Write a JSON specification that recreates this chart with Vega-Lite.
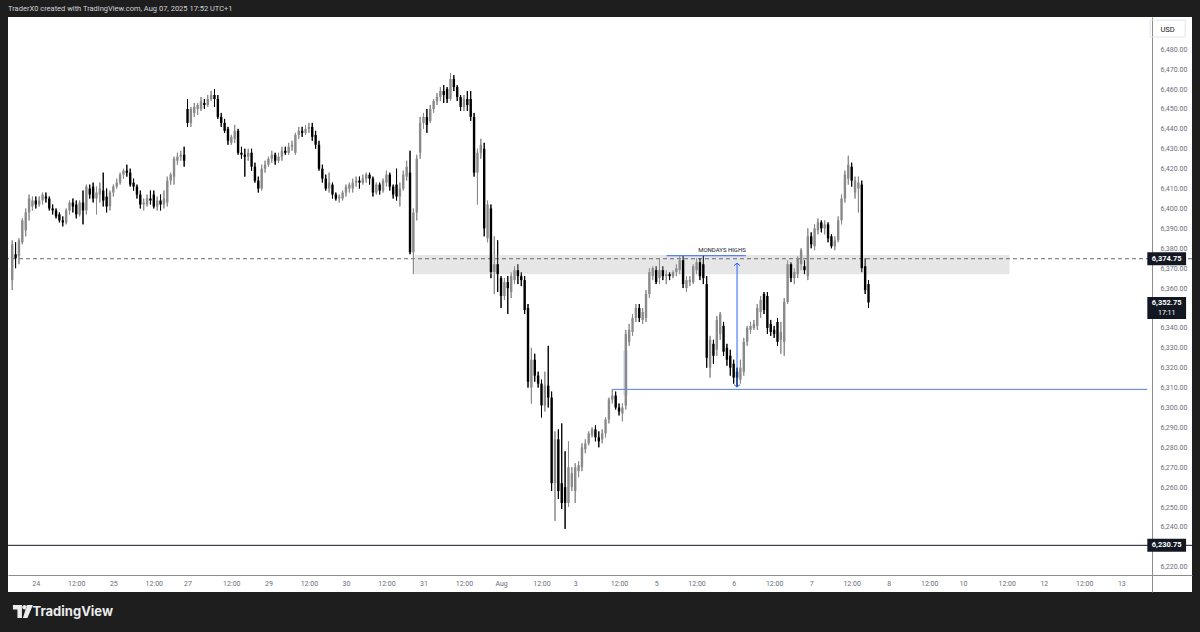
{
  "$schema": "https://vega.github.io/schema/vega-lite/v6.json",
  "width": 1184,
  "height": 575,
  "autosize": {"type": "none"},
  "padding": {"left": 8, "top": 17, "right": 8, "bottom": 40},
  "background": "#1e1e1e",
  "config": {
    "view": {"fill": "#ffffff", "stroke": null},
    "axis": {"grid": false, "ticks": false, "labelOverlap": false, "labelSeparation": 0, "labelBound": false},
    "font": "Roboto"
  },
  "title": {
    "text": "TraderX0 created with TradingView.com, Aug 07, 2025 17:52 UTC+1",
    "anchor": "start", "frame": "group", "orient": "top", "offset": 1,
    "baseline": "middle", "fontSize": 7.5, "fontWeight": "normal", "color": "#d1d4dc", "font": "Roboto"
  },
  "datasets": {
    "candles": [
      {"i":-7,"o":6364,"h":6384,"l":6359,"c":6382},{"i":-6,"o":6377,"h":6383,"l":6370,"c":6375},{"i":-5,"o":6376,"h":6385,"l":6372,"c":6384},{"i":-4,"o":6383,"h":6395,"l":6382,"c":6394},{"i":-3,"o":6389,"h":6400,"l":6386,"c":6398},{"i":-2,"o":6398,"h":6407,"l":6394,"c":6405},{"i":-1,"o":6401,"h":6406,"l":6399,"c":6404},
      {"i":0,"o":6404,"h":6406,"l":6400,"c":6402},{"i":1,"o":6402,"h":6406,"l":6401,"c":6404},{"i":2,"o":6404,"h":6408,"l":6402,"c":6407},{"i":3,"o":6406,"h":6408,"l":6403,"c":6405},{"i":4,"o":6405,"h":6406,"l":6399,"c":6400},{"i":5,"o":6400,"h":6402,"l":6397,"c":6399},{"i":6,"o":6399,"h":6400,"l":6395,"c":6396},{"i":7,"o":6397,"h":6398,"l":6393,"c":6394},{"i":8,"o":6394,"h":6396,"l":6391,"c":6393},{"i":9,"o":6393,"h":6400,"l":6392,"c":6399},
      {"i":10,"o":6399,"h":6404,"l":6397,"c":6403},{"i":11,"o":6403,"h":6405,"l":6398,"c":6401},{"i":12,"o":6402,"h":6404,"l":6395,"c":6397},{"i":13,"o":6397,"h":6404,"l":6396,"c":6403},{"i":14,"o":6403,"h":6409,"l":6392,"c":6399},{"i":15,"o":6399,"h":6412,"l":6397,"c":6411},{"i":16,"o":6410,"h":6412,"l":6405,"c":6407},{"i":17,"o":6411,"h":6413,"l":6403,"c":6405},{"i":18,"o":6405,"h":6411,"l":6397,"c":6408},{"i":19,"o":6407,"h":6413,"l":6403,"c":6410},
      {"i":20,"o":6409,"h":6418,"l":6401,"c":6404},{"i":21,"o":6406,"h":6410,"l":6398,"c":6401},{"i":22,"o":6401,"h":6409,"l":6399,"c":6408},{"i":23,"o":6408,"h":6412,"l":6406,"c":6411},{"i":24,"o":6411,"h":6415,"l":6410,"c":6413},{"i":25,"o":6413,"h":6418,"l":6412,"c":6417},{"i":26,"o":6417,"h":6420,"l":6415,"c":6419},{"i":27,"o":6419,"h":6422,"l":6416,"c":6418},{"i":28,"o":6418,"h":6420,"l":6411,"c":6412},{"i":29,"o":6413,"h":6415,"l":6409,"c":6411},
      {"i":30,"o":6411,"h":6412,"l":6405,"c":6407},{"i":31,"o":6407,"h":6409,"l":6400,"c":6402},{"i":32,"o":6402,"h":6405,"l":6399,"c":6403},{"i":33,"o":6402,"h":6407,"l":6401,"c":6405},{"i":34,"o":6405,"h":6409,"l":6402,"c":6404},{"i":35,"o":6407,"h":6409,"l":6400,"c":6401},{"i":36,"o":6401,"h":6406,"l":6399,"c":6404},{"i":37,"o":6404,"h":6407,"l":6399,"c":6402},{"i":38,"o":6402,"h":6409,"l":6400,"c":6405},{"i":39,"o":6403,"h":6416,"l":6401,"c":6414},
      {"i":40,"o":6414,"h":6418,"l":6412,"c":6417},{"i":41,"o":6416,"h":6426,"l":6412,"c":6425},{"i":42,"o":6424,"h":6428,"l":6422,"c":6426},{"i":43,"o":6426,"h":6429,"l":6424,"c":6427},{"i":44,"o":6427,"h":6431,"l":6421,"c":6424},
      {"i":45,"o":6450,"h":6455,"l":6441,"c":6443},{"i":46,"o":6443,"h":6451,"l":6441,"c":6450},{"i":47,"o":6448,"h":6453,"l":6446,"c":6451},{"i":48,"o":6450,"h":6453,"l":6447,"c":6452},{"i":49,"o":6450,"h":6456,"l":6449,"c":6454},
      {"i":50,"o":6453,"h":6455,"l":6450,"c":6452},{"i":51,"o":6452,"h":6457,"l":6451,"c":6455},{"i":52,"o":6455,"h":6459,"l":6454,"c":6457},{"i":53,"o":6457,"h":6460,"l":6451,"c":6455},{"i":54,"o":6455,"h":6457,"l":6445,"c":6446},{"i":55,"o":6446,"h":6448,"l":6441,"c":6443},{"i":56,"o":6443,"h":6445,"l":6438,"c":6439},{"i":57,"o":6440,"h":6441,"l":6432,"c":6434},{"i":58,"o":6433,"h":6437,"l":6432,"c":6436},{"i":59,"o":6435,"h":6442,"l":6433,"c":6439},
      {"i":60,"o":6439,"h":6440,"l":6427,"c":6428},{"i":61,"o":6428,"h":6431,"l":6425,"c":6427},{"i":62,"o":6427,"h":6430,"l":6416,"c":6426},{"i":63,"o":6426,"h":6430,"l":6424,"c":6428},{"i":64,"o":6428,"h":6430,"l":6419,"c":6421},{"i":65,"o":6421,"h":6423,"l":6413,"c":6414},{"i":66,"o":6414,"h":6416,"l":6408,"c":6410},{"i":67,"o":6410,"h":6422,"l":6409,"c":6420},{"i":68,"o":6420,"h":6424,"l":6418,"c":6422},{"i":69,"o":6422,"h":6426,"l":6421,"c":6425},
      {"i":70,"o":6425,"h":6429,"l":6423,"c":6427},{"i":71,"o":6427,"h":6428,"l":6422,"c":6424},{"i":72,"o":6424,"h":6428,"l":6423,"c":6426},{"i":73,"o":6426,"h":6431,"l":6424,"c":6429},{"i":74,"o":6429,"h":6431,"l":6427,"c":6428},{"i":75,"o":6428,"h":6433,"l":6427,"c":6431},{"i":76,"o":6431,"h":6434,"l":6429,"c":6432},{"i":77,"o":6428,"h":6438,"l":6427,"c":6437},{"i":78,"o":6437,"h":6441,"l":6435,"c":6439},{"i":79,"o":6439,"h":6441,"l":6436,"c":6438},
      {"i":80,"o":6438,"h":6442,"l":6437,"c":6440},{"i":81,"o":6440,"h":6443,"l":6438,"c":6441},{"i":82,"o":6441,"h":6443,"l":6434,"c":6436},{"i":83,"o":6437,"h":6439,"l":6430,"c":6432},{"i":84,"o":6432,"h":6434,"l":6419,"c":6420},{"i":85,"o":6420,"h":6422,"l":6413,"c":6415},{"i":86,"o":6415,"h":6417,"l":6409,"c":6410},{"i":87,"o":6410,"h":6418,"l":6408,"c":6413},{"i":88,"o":6412,"h":6413,"l":6405,"c":6407},{"i":89,"o":6407,"h":6408,"l":6404,"c":6405},
      {"i":90,"o":6405,"h":6407,"l":6403,"c":6406},{"i":91,"o":6405,"h":6409,"l":6404,"c":6408},{"i":92,"o":6408,"h":6412,"l":6406,"c":6411},{"i":93,"o":6410,"h":6413,"l":6408,"c":6412},{"i":94,"o":6410,"h":6415,"l":6408,"c":6413},{"i":95,"o":6413,"h":6416,"l":6411,"c":6414},{"i":96,"o":6414,"h":6416,"l":6410,"c":6413},{"i":97,"o":6413,"h":6417,"l":6412,"c":6415},{"i":98,"o":6415,"h":6418,"l":6413,"c":6417},{"i":99,"o":6417,"h":6418,"l":6412,"c":6415},
      {"i":100,"o":6415,"h":6416,"l":6406,"c":6408},{"i":101,"o":6408,"h":6413,"l":6407,"c":6412},{"i":102,"o":6412,"h":6413,"l":6407,"c":6409},{"i":103,"o":6409,"h":6415,"l":6408,"c":6414},{"i":104,"o":6413,"h":6419,"l":6411,"c":6417},{"i":105,"o":6417,"h":6418,"l":6409,"c":6411},{"i":106,"o":6411,"h":6412,"l":6405,"c":6407},{"i":107,"o":6412,"h":6420,"l":6404,"c":6406},{"i":108,"o":6406,"h":6413,"l":6401,"c":6410},{"i":109,"o":6410,"h":6419,"l":6409,"c":6417},
      {"i":110,"o":6416,"h":6424,"l":6414,"c":6421},{"i":111,"o":6418,"h":6429,"l":6377,"c":6378},{"i":112,"o":6378,"h":6400,"l":6367,"c":6398},{"i":113,"o":6398,"h":6427,"l":6394,"c":6425},{"i":114,"o":6428,"h":6446,"l":6425,"c":6443},{"i":115,"o":6443,"h":6448,"l":6440,"c":6446},{"i":116,"o":6446,"h":6450,"l":6438,"c":6442},{"i":117,"o":6444,"h":6452,"l":6443,"c":6450},{"i":118,"o":6450,"h":6455,"l":6448,"c":6454},{"i":119,"o":6454,"h":6458,"l":6452,"c":6456},
      {"i":120,"o":6456,"h":6461,"l":6454,"c":6459},{"i":121,"o":6459,"h":6462,"l":6453,"c":6457},{"i":122,"o":6460,"h":6461,"l":6453,"c":6455},{"i":123,"o":6455,"h":6468,"l":6454,"c":6465},{"i":124,"o":6465,"h":6467,"l":6459,"c":6461},{"i":125,"o":6461,"h":6462,"l":6454,"c":6456},{"i":126,"o":6456,"h":6457,"l":6449,"c":6451},{"i":127,"o":6451,"h":6457,"l":6449,"c":6455},{"i":128,"o":6455,"h":6459,"l":6449,"c":6452},{"i":129,"o":6455,"h":6459,"l":6444,"c":6446},
      {"i":130,"o":6446,"h":6448,"l":6416,"c":6418},{"i":131,"o":6418,"h":6430,"l":6402,"c":6428},{"i":132,"o":6428,"h":6435,"l":6425,"c":6432},{"i":133,"o":6430,"h":6433,"l":6386,"c":6390},{"i":134,"o":6385,"h":6404,"l":6383,"c":6402},{"i":135,"o":6400,"h":6402,"l":6365,"c":6368},{"i":136,"o":6368,"h":6386,"l":6357,"c":6372},{"i":137,"o":6372,"h":6384,"l":6358,"c":6367},{"i":138,"o":6365,"h":6366,"l":6350,"c":6356},{"i":139,"o":6356,"h":6365,"l":6354,"c":6363},
      {"i":140,"o":6363,"h":6366,"l":6347,"c":6360},{"i":141,"o":6358,"h":6368,"l":6355,"c":6366},{"i":142,"o":6364,"h":6371,"l":6362,"c":6369},{"i":143,"o":6369,"h":6372,"l":6362,"c":6366},{"i":144,"o":6366,"h":6368,"l":6361,"c":6364},{"i":145,"o":6364,"h":6366,"l":6347,"c":6349},{"i":146,"o":6350,"h":6352,"l":6310,"c":6313},{"i":147,"o":6310,"h":6330,"l":6302,"c":6324},{"i":148,"o":6324,"h":6327,"l":6313,"c":6316},{"i":149,"o":6316,"h":6318,"l":6310,"c":6312},
      {"i":150,"o":6312,"h":6314,"l":6295,"c":6301},{"i":151,"o":6301,"h":6318,"l":6298,"c":6311},{"i":152,"o":6311,"h":6331,"l":6300,"c":6305},{"i":153,"o":6305,"h":6308,"l":6258,"c":6262},{"i":154,"o":6262,"h":6288,"l":6243,"c":6284},{"i":155,"o":6284,"h":6289,"l":6254,"c":6258},{"i":156,"o":6262,"h":6292,"l":6249,"c":6252},{"i":157,"o":6260,"h":6278,"l":6239,"c":6252},{"i":158,"o":6252,"h":6283,"l":6250,"c":6270},{"i":159,"o":6260,"h":6270,"l":6258,"c":6267},
      {"i":160,"o":6258,"h":6272,"l":6252,"c":6270},{"i":161,"o":6268,"h":6273,"l":6265,"c":6271},{"i":162,"o":6270,"h":6282,"l":6268,"c":6280},{"i":163,"o":6279,"h":6284,"l":6277,"c":6282},{"i":164,"o":6282,"h":6288,"l":6281,"c":6287},{"i":165,"o":6286,"h":6290,"l":6285,"c":6289},{"i":166,"o":6289,"h":6291,"l":6283,"c":6285},{"i":167,"o":6285,"h":6288,"l":6280,"c":6283},{"i":168,"o":6284,"h":6289,"l":6282,"c":6287},{"i":169,"o":6287,"h":6295,"l":6285,"c":6294},
      {"i":170,"o":6294,"h":6305,"l":6292,"c":6304},{"i":171,"o":6304,"h":6309.1,"l":6302,"c":6306},{"i":172,"o":6306,"h":6308,"l":6299,"c":6300},{"i":173,"o":6300,"h":6302,"l":6296,"c":6298},{"i":174,"o":6297,"h":6302,"l":6293,"c":6300},{"i":175,"o":6301,"h":6339,"l":6299,"c":6337},{"i":176,"o":6333,"h":6342,"l":6331,"c":6339},{"i":177,"o":6338,"h":6347,"l":6336,"c":6345},{"i":178,"o":6345,"h":6352,"l":6343,"c":6350},{"i":179,"o":6350,"h":6352,"l":6343,"c":6345},
      {"i":180,"o":6344,"h":6350,"l":6342,"c":6348},{"i":181,"o":6345,"h":6359,"l":6343,"c":6357},{"i":182,"o":6357,"h":6370,"l":6355,"c":6368},{"i":183,"o":6366,"h":6371,"l":6364,"c":6370},{"i":184,"o":6369,"h":6371,"l":6362,"c":6363},{"i":185,"o":6365,"h":6375,"l":6362,"c":6369},{"i":186,"o":6369,"h":6371,"l":6364,"c":6366},{"i":187,"o":6366,"h":6369,"l":6362,"c":6367},{"i":188,"o":6367,"h":6368,"l":6364,"c":6366},{"i":189,"o":6366,"h":6369,"l":6365,"c":6368},
      {"i":190,"o":6368,"h":6372,"l":6366,"c":6370},{"i":191,"o":6369,"h":6376,"l":6367,"c":6374},{"i":192,"o":6374,"h":6376.25,"l":6360,"c":6362},{"i":193,"o":6360,"h":6366,"l":6358,"c":6364},{"i":194,"o":6363,"h":6366,"l":6361,"c":6364},{"i":195,"o":6363,"h":6372,"l":6362,"c":6371},{"i":196,"o":6369,"h":6375,"l":6367,"c":6373},{"i":197,"o":6373,"h":6375,"l":6364,"c":6366},{"i":198,"o":6372,"h":6376.25,"l":6362,"c":6365},{"i":199,"o":6362,"h":6366,"l":6320,"c":6325},
      {"i":200,"o":6320,"h":6336,"l":6315,"c":6334},{"i":201,"o":6332,"h":6334,"l":6322,"c":6326},{"i":202,"o":6329,"h":6346,"l":6326,"c":6344},{"i":203,"o":6337,"h":6348,"l":6334,"c":6347},{"i":204,"o":6341,"h":6343,"l":6326,"c":6328},{"i":205,"o":6330,"h":6332,"l":6321,"c":6324},{"i":206,"o":6326,"h":6329,"l":6316,"c":6320},{"i":207,"o":6322,"h":6324,"l":6312,"c":6315},{"i":208,"o":6318,"h":6320,"l":6310.25,"c":6315},{"i":209,"o":6314,"h":6324,"l":6312,"c":6320},
      {"i":210,"o":6318,"h":6335,"l":6316,"c":6333},{"i":211,"o":6333,"h":6341,"l":6331,"c":6340},{"i":212,"o":6339,"h":6343,"l":6337,"c":6341},{"i":213,"o":6340,"h":6344,"l":6339,"c":6342},{"i":214,"o":6341,"h":6352,"l":6339,"c":6350},{"i":215,"o":6348,"h":6356,"l":6345,"c":6354},{"i":216,"o":6357,"h":6358,"l":6347,"c":6349},{"i":217,"o":6356,"h":6358,"l":6337,"c":6340},{"i":218,"o":6342,"h":6344,"l":6336,"c":6338},{"i":219,"o":6339,"h":6341,"l":6335,"c":6337},
      {"i":220,"o":6343,"h":6345,"l":6331,"c":6333},{"i":221,"o":6334,"h":6343,"l":6327,"c":6338},{"i":222,"o":6333,"h":6355,"l":6326,"c":6353},{"i":223,"o":6353,"h":6374,"l":6352,"c":6372},{"i":224,"o":6372,"h":6373,"l":6363,"c":6365},{"i":225,"o":6365,"h":6370,"l":6362,"c":6368},{"i":226,"o":6367,"h":6376,"l":6365,"c":6375},{"i":227,"o":6372,"h":6380,"l":6369,"c":6379},{"i":228,"o":6371,"h":6374,"l":6367,"c":6369},{"i":229,"o":6366,"h":6390,"l":6364,"c":6386},
      {"i":230,"o":6386,"h":6388,"l":6380,"c":6382},{"i":231,"o":6381,"h":6392,"l":6379,"c":6390},{"i":232,"o":6389,"h":6395,"l":6387,"c":6393},{"i":233,"o":6393,"h":6394,"l":6388,"c":6390},{"i":234,"o":6390,"h":6394,"l":6387,"c":6392},{"i":235,"o":6392,"h":6393,"l":6383,"c":6385},{"i":236,"o":6386,"h":6387,"l":6380,"c":6381},{"i":237,"o":6381,"h":6386,"l":6379,"c":6384},{"i":238,"o":6384,"h":6396,"l":6383,"c":6394},{"i":239,"o":6394,"h":6407,"l":6392,"c":6405},
      {"i":240,"o":6405,"h":6419,"l":6403,"c":6417},{"i":241,"o":6415,"h":6426.5,"l":6412,"c":6422},{"i":242,"o":6421,"h":6423,"l":6411,"c":6414},{"i":243,"o":6408,"h":6416,"l":6405,"c":6414},{"i":244,"o":6410,"h":6416,"l":6398,"c":6413},{"i":245,"o":6412,"h":6414,"l":6368,"c":6370},{"i":246,"o":6371,"h":6375,"l":6357,"c":6359},{"i":247,"o":6362,"h":6364,"l":6350,"c":6352.75}
    ]
  },
  "layer": [
    {
      "data": {"name": "candles"},
      "mark": {"type": "rule", "strokeWidth": 1},
      "encoding": {
        "x": {
          "field": "i", "type": "quantitative",
          "scale": {"domain": [-6.765, 341.47], "nice": false, "zero": false},
          "axis": {
            "orient": "bottom", "offset": -17, "tickCount": 200,
            "values": [0, 12, 23, 35, 45, 58, 69, 81, 92, 104, 115, 127, 138, 150, 160, 173, 184, 196, 207, 219, 230, 242, 253, 265, 275, 288, 299, 311, 322],
            "labelExpr": "['24','12:00','25','12:00','27','12:00','29','12:00','30','12:00','31','12:00','Aug','12:00','3','12:00','5','12:00','6','12:00','7','12:00','8','12:00','10','12:00','12','12:00','13'][indexof([0,12,23,35,45,58,69,81,92,104,115,127,138,150,160,173,184,196,207,219,230,242,253,265,275,288,299,311,322], datum.value)]",
            "ticks": false, "grid": false,
            "domainColor": "#8c8c8c", "domainWidth": 1,
            "labelColor": "#6a6d78", "labelFontSize": 7, "labelFont": "Roboto", "labelPadding": 4,
            "labelOverlap": false, "labelFlush": false,
            "title": "TradingView", "titleX": 24, "titleY": 36, "titleAlign": "left", "titleAnchor": null,
            "titleBaseline": "middle", "titleFontSize": 13, "titleFontWeight": 700, "titleColor": "#ececec", "titleFont": "Inter"
          }
        },
        "y": {
          "field": "l", "type": "quantitative",
          "scale": {"domain": [6207.3, 6496.2], "nice": false, "zero": false},
          "axis": {
            "orient": "right", "offset": -40, "tickCount": 200,
            "values": [6220, 6240, 6250, 6260, 6270, 6280, 6290, 6300, 6310, 6320, 6330, 6340, 6360, 6370, 6380, 6390, 6400, 6410, 6420, 6430, 6440, 6450, 6460, 6470, 6480],
            "format": ",.2f",
            "ticks": false, "grid": false,
            "domainColor": "#8c8c8c", "domainWidth": 1,
            "labelColor": "#6a6d78", "labelFontSize": 7, "labelFont": "Roboto", "labelPadding": 8,
            "labelAlign": "left", "labelBaseline": "middle", "labelOverlap": false, "labelFlush": false, "labelSeparation": 0,
            "title": "USD", "titleAngle": 0, "titleX": 8, "titleY": 12, "titleAlign": "left", "titleAnchor": null,
            "titleBaseline": "middle", "titleFontSize": 7.5, "titleFontWeight": "normal", "titleColor": "#131722", "titleFont": "Roboto"
          }
        },
        "y2": {"field": "h"},
        "color": {"condition": {"test": "datum.c >= datum.o", "value": "#8a8a8a"}, "value": "#000000"}
      }
    },
    {
      "data": {"values": [{"x1": 112.3, "x2": 288.8, "p1": 6366.9, "p2": 6376.6}]},
      "mark": {"type": "rect", "color": "#e6e6e6"},
      "encoding": {
        "x": {"field": "x1", "type": "quantitative", "scale": {"domain": [-6.765, 341.47], "nice": false, "zero": false}},
        "x2": {"field": "x2"},
        "y": {"field": "p1", "type": "quantitative", "scale": {"domain": [6207.3, 6496.2], "nice": false, "zero": false}},
        "y2": {"field": "p2"}
      }
    },
    {
      "data": {"values": [{"x1": 174.2, "x2": 175.7, "p1": 6306, "p2": 6328.7}]},
      "mark": {"type": "rect", "color": "#dbe5fa"},
      "encoding": {
        "x": {"field": "x1", "type": "quantitative", "scale": {"domain": [-6.765, 341.47], "nice": false, "zero": false}},
        "x2": {"field": "x2"},
        "y": {"field": "p1", "type": "quantitative", "scale": {"domain": [6207.3, 6496.2], "nice": false, "zero": false}},
        "y2": {"field": "p2"}
      }
    },
    {
      "data": {"values": [{"p": 6374.75}]},
      "mark": {"type": "rule", "color": "#6b6b6b", "strokeWidth": 1, "strokeDash": [4, 3]},
      "encoding": {
        "y": {"field": "p", "type": "quantitative", "scale": {"domain": [6207.3, 6496.2], "nice": false, "zero": false}}
      }
    },
    {
      "data": {"values": [{"p": 6230.75}]},
      "mark": {"type": "rule", "color": "#131722", "strokeWidth": 1},
      "encoding": {
        "y": {"field": "p", "type": "quantitative", "scale": {"domain": [6207.3, 6496.2], "nice": false, "zero": false}}
      }
    },
    {
      "data": {"values": [{"i": 171, "p": 6309.1}]},
      "mark": {"type": "rule", "color": "#5b7ee5", "strokeWidth": 1},
      "encoding": {
        "x": {"field": "i", "type": "quantitative", "scale": {"domain": [-6.765, 341.47], "nice": false, "zero": false}},
        "x2": {"datum": 329.7},
        "y": {"field": "p", "type": "quantitative", "scale": {"domain": [6207.3, 6496.2], "nice": false, "zero": false}}
      }
    },
    {
      "data": {"name": "candles"},
      "mark": {"type": "rule", "strokeWidth": 1},
      "encoding": {
        "x": {"field": "i", "type": "quantitative", "scale": {"domain": [-6.765, 341.47], "nice": false, "zero": false}},
        "y": {"field": "l", "type": "quantitative", "scale": {"domain": [6207.3, 6496.2], "nice": false, "zero": false}},
        "y2": {"field": "h"},
        "color": {"condition": {"test": "datum.c >= datum.o", "value": "#8a8a8a"}, "value": "#000000"}
      }
    },
    {
      "data": {"name": "candles"},
      "mark": {"type": "bar", "width": 2.4},
      "encoding": {
        "x": {"field": "i", "type": "quantitative", "scale": {"domain": [-6.765, 341.47], "nice": false, "zero": false}},
        "y": {"field": "o", "type": "quantitative", "scale": {"domain": [6207.3, 6496.2], "nice": false, "zero": false}},
        "y2": {"field": "c"},
        "color": {"condition": {"test": "datum.c >= datum.o", "value": "#8a8a8a"}, "value": "#000000"}
      }
    },
    {
      "data": {"values": [{"x1": 187.1, "x2": 210.6, "p": 6376.25, "t": "MONDAYS HIGHS"}]},
      "layer": [
        {
          "mark": {"type": "rule", "color": "#2962ff", "strokeWidth": 1},
          "encoding": {
            "x": {"field": "x1", "type": "quantitative", "scale": {"domain": [-6.765, 341.47], "nice": false, "zero": false}},
            "x2": {"field": "x2"},
            "y": {"field": "p", "type": "quantitative", "scale": {"domain": [6207.3, 6496.2], "nice": false, "zero": false}}
          }
        },
        {
          "mark": {"type": "text", "align": "right", "baseline": "middle", "dy": -5.5, "fontSize": 6, "font": "Roboto", "color": "#131722"},
          "encoding": {
            "x": {"field": "x2", "type": "quantitative", "scale": {"domain": [-6.765, 341.47], "nice": false, "zero": false}},
            "y": {"field": "p", "type": "quantitative", "scale": {"domain": [6207.3, 6496.2], "nice": false, "zero": false}},
            "text": {"field": "t"}
          }
        }
      ]
    },
    {
      "data": {"values": [{"i": 208, "p1": 6310.3, "p2": 6372.5}]},
      "layer": [
        {
          "mark": {"type": "rule", "color": "#2962ff", "strokeWidth": 1},
          "encoding": {
            "x": {"field": "i", "type": "quantitative", "scale": {"domain": [-6.765, 341.47], "nice": false, "zero": false}},
            "y": {"field": "p1", "type": "quantitative", "scale": {"domain": [6207.3, 6496.2], "nice": false, "zero": false}},
            "y2": {"field": "p2"}
          }
        },
        {
          "mark": {"type": "point", "shape": "M-1,0.8L0,0L1,0.8", "filled": false, "size": 36, "stroke": "#2962ff", "strokeWidth": 1, "opacity": 1},
          "encoding": {
            "x": {"field": "i", "type": "quantitative", "scale": {"domain": [-6.765, 341.47], "nice": false, "zero": false}},
            "y": {"field": "p2", "type": "quantitative", "scale": {"domain": [6207.3, 6496.2], "nice": false, "zero": false}}
          }
        },
        {
          "mark": {"type": "point", "shape": "M-1,-0.8L0,0L1,-0.8", "filled": false, "size": 36, "stroke": "#2962ff", "strokeWidth": 1, "opacity": 1},
          "encoding": {
            "x": {"field": "i", "type": "quantitative", "scale": {"domain": [-6.765, 341.47], "nice": false, "zero": false}},
            "y": {"field": "p1", "type": "quantitative", "scale": {"domain": [6207.3, 6496.2], "nice": false, "zero": false}}
          }
        }
      ]
    },
    {
      "data": {"values": [{"p": 6374.75, "t": "6,374.75"}, {"p": 6230.75, "t": "6,230.75"}]},
      "layer": [
        {
          "mark": {"type": "rule", "color": "#131722", "strokeWidth": 13, "strokeCap": "butt"},
          "encoding": {
            "x": {"datum": 329.7, "type": "quantitative", "scale": {"domain": [-6.765, 341.47], "nice": false, "zero": false}},
            "x2": {"datum": 341.2},
            "y": {"field": "p", "type": "quantitative", "scale": {"domain": [6207.3, 6496.2], "nice": false, "zero": false}}
          }
        },
        {
          "mark": {"type": "text", "align": "center", "baseline": "middle", "fontSize": 7.5, "fontWeight": "bold", "font": "Roboto", "color": "#ffffff"},
          "encoding": {
            "x": {"datum": 335.45, "type": "quantitative", "scale": {"domain": [-6.765, 341.47], "nice": false, "zero": false}},
            "y": {"field": "p", "type": "quantitative", "scale": {"domain": [6207.3, 6496.2], "nice": false, "zero": false}},
            "text": {"field": "t"}
          }
        }
      ]
    },
    {
      "data": {"values": [{"p": 6352.75, "t": "6,352.75", "t2": "17:11"}]},
      "layer": [
        {
          "mark": {"type": "rule", "color": "#131722", "strokeWidth": 22, "strokeCap": "butt", "yOffset": 5.5},
          "encoding": {
            "x": {"datum": 329.7, "type": "quantitative", "scale": {"domain": [-6.765, 341.47], "nice": false, "zero": false}},
            "x2": {"datum": 341.2},
            "y": {"field": "p", "type": "quantitative", "scale": {"domain": [6207.3, 6496.2], "nice": false, "zero": false}}
          }
        },
        {
          "mark": {"type": "text", "align": "center", "baseline": "middle", "fontSize": 7.5, "fontWeight": "bold", "font": "Roboto", "color": "#ffffff"},
          "encoding": {
            "x": {"datum": 335.45, "type": "quantitative", "scale": {"domain": [-6.765, 341.47], "nice": false, "zero": false}},
            "y": {"field": "p", "type": "quantitative", "scale": {"domain": [6207.3, 6496.2], "nice": false, "zero": false}},
            "text": {"field": "t"}
          }
        },
        {
          "mark": {"type": "text", "align": "center", "baseline": "middle", "dy": 10, "fontSize": 7, "font": "Roboto", "color": "#ffffff"},
          "encoding": {
            "x": {"datum": 335.45, "type": "quantitative", "scale": {"domain": [-6.765, 341.47], "nice": false, "zero": false}},
            "y": {"field": "p", "type": "quantitative", "scale": {"domain": [6207.3, 6496.2], "nice": false, "zero": false}},
            "text": {"field": "t2"}
          }
        }
      ]
    },
    {
      "data": {"values": [{"k": "usd"}]},
      "mark": {"type": "point", "shape": "M-1,-0.486H1V0.486H-1Z", "filled": false, "size": 1225, "stroke": "#e0e3eb", "strokeWidth": 1, "opacity": 1},
      "encoding": {
        "x": {"datum": 335.74, "type": "quantitative", "scale": {"domain": [-6.765, 341.47], "nice": false, "zero": false}},
        "y": {"datum": 6490.4, "type": "quantitative", "scale": {"domain": [6207.3, 6496.2], "nice": false, "zero": false}}
      }
    },
    {
      "data": {"values": [{"k": "logo"}]},
      "mark": {"type": "point", "shape": "M-1,-0.65H-0.1V0.65H-0.55V-0.2H-1Z M-0.07,-0.43A0.22,0.22 0 1,0 0.37,-0.43A0.22,0.22 0 1,0 -0.07,-0.43Z M0.4,-0.65H1L0.45,0.65H0Z", "filled": true, "size": 400, "color": "#ececec", "opacity": 1},
      "encoding": {
        "x": {"datum": -3.82, "type": "quantitative", "scale": {"domain": [-6.765, 341.47], "nice": false, "zero": false}},
        "y": {"datum": 6197.45, "type": "quantitative", "scale": {"domain": [6207.3, 6496.2], "nice": false, "zero": false}}
      }
    }
  ]
}
